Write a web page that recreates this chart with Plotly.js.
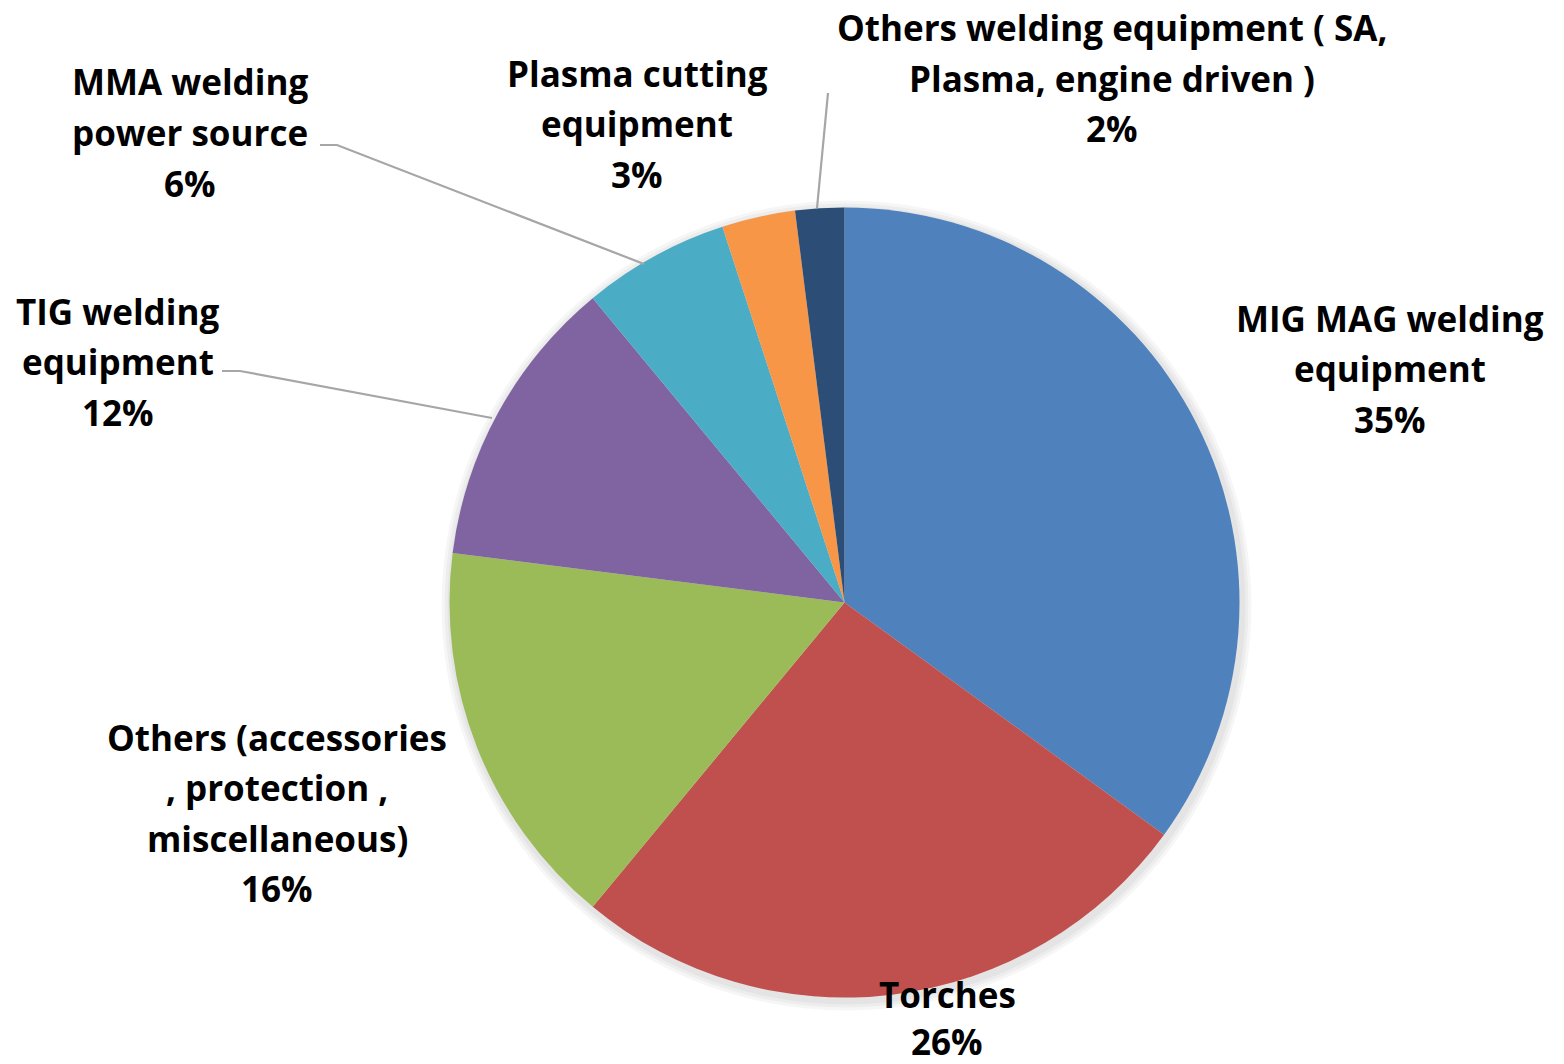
<!DOCTYPE html>
<html>
<head>
<meta charset="utf-8">
<script src="https://cdn.plot.ly/plotly-3.0.1.min.js"></script>
<style>html,body{margin:0;padding:0;background:#fff;}#chart{width:1564px;height:1064px;}</style>
</head>
<body>
<div id="chart"></div>
<script>
// ---- data ----
var categories = [
  "MIG MAG welding<br>equipment",
  "Torches",
  "Others (accessories<br>, protection ,<br>miscellaneous)",
  "TIG welding<br>equipment",
  "MMA welding<br>power source",
  "Plasma cutting<br>equipment",
  "Others welding equipment ( SA,<br>Plasma, engine driven )"
];
var values = [35, 26, 16, 12, 6, 3, 2];
var colors = ["#4F81BD", "#C0504D", "#9BBB59", "#8064A2", "#4BACC6", "#F79646", "#2C4D75"];

// ---- layout helpers (label placement in pixels) ----
var W = 1564, H = 1064;
var labelPos = [
  {x: 1390, y: 318},
  {x: 947,  y: 994, gap: 47},
  {x: 277,  y: 737},
  {x: 118,  y: 311},
  {x: 190,  y: 82},
  {x: 637,  y: 73},
  {x: 1112, y: 28}
];
var lineGap = 50.5;
var leaders = [
  null, null, null,
  [[222,371],[240,371],[492,418]],
  [[320,145],[337,145],[644,264]],
  null,
  [[828,93],[817,208]]
];

var total = values.reduce(function(a,b){return a+b;},0);
var annotations = [];
categories.forEach(function(c, i){
  var lines = c.split("<br>");
  lines.push(Math.round(values[i] / total * 100) + "%");
  var gap = labelPos[i].gap || lineGap;
  lines.forEach(function(t, k){
    annotations.push({
      xref: "paper", yref: "paper",
      x: labelPos[i].x / W, y: 1 - (labelPos[i].y + k * gap) / H,
      xanchor: "center", yanchor: "middle",
      text: "<b>" + t + "</b>", showarrow: false,
      font: {family: "'Open Sans', Lato, sans-serif", size: 35, color: "#000"}
    });
  });
});

var shapes = [];
leaders.forEach(function(p){
  if (!p) return;
  var d = p.map(function(pt, k){ return (k ? "L" : "M") + (pt[0]/W) + "," + (1 - pt[1]/H); }).join(" ");
  shapes.push({type: "path", xref: "paper", yref: "paper", path: d,
    line: {color: "#A6A6A6", width: 2.2}});
});

// soft shadow behind pie
var cx = 844.5, cy = 602.5, R = 395;
[10, 7, 4].forEach(function(s, k){
  shapes.push({type: "circle", xref: "paper", yref: "paper", layer: "below",
    x0: (cx - R - s + 2)/W, x1: (cx + R + s + 2)/W,
    y0: 1 - (cy + R + s + 3)/H, y1: 1 - (cy - R - s + 3)/H,
    fillcolor: "rgba(0,0,0,0.035)", line: {width: 0}});
});

var trace = {
  type: "pie",
  labels: categories,
  values: values,
  sort: false,
  direction: "clockwise",
  rotation: 0,
  marker: {colors: colors, line: {width: 0}},
  textinfo: "none",
  hoverinfo: "label+percent",
  showlegend: false,
  domain: {x: [(cx - R)/W, (cx + R)/W], y: [1 - (cy + R)/H, 1 - (cy - R)/H]}
};

var layout = {
  width: W, height: H,
  margin: {l: 0, r: 0, t: 0, b: 0},
  paper_bgcolor: "#fff",
  showlegend: false,
  annotations: annotations,
  shapes: shapes
};

Plotly.newPlot("chart", [trace], layout, {displayModeBar: false, staticPlot: true});
</script>
</body>
</html>
